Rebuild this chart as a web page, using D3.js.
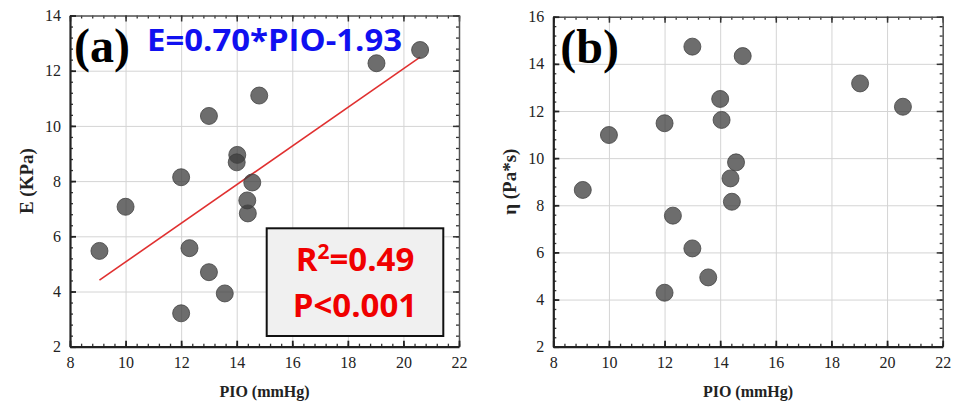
<!DOCTYPE html>
<html>
<head>
<meta charset="utf-8">
<script src="https://cdn.jsdelivr.net/npm/d3@7"></script>
<style>
  body { margin: 0; background: #fff; }
</style>
</head>
<body>
<div id="chart"></div>
<script>
// data
var pioA = [9.06, 10.0, 12.0, 12.0, 12.3, 13.0, 13.0, 13.57, 14.0, 14.02, 14.38, 14.4, 14.56, 14.81, 19.03, 20.6];
var eA   = [5.47, 7.07, 8.14, 3.21, 5.57, 10.36, 4.7, 3.93, 8.68, 8.95, 7.3, 6.83, 7.95, 11.1, 12.27, 12.75];

var pioB = [9.06, 10.0, 12.0, 12.0, 12.3, 13.0, 13.0, 13.57, 14.0, 14.05, 14.37, 14.42, 14.57, 14.81, 19.03, 20.57];
var etaB = [8.65, 10.98, 11.48, 4.29, 7.56, 14.73, 6.17, 4.94, 12.51, 11.62, 9.14, 8.15, 9.82, 14.33, 13.17, 12.18];

var xTicks = [8, 10, 12, 14, 16, 18, 20, 22];
var yTicksA = [2, 4, 6, 8, 10, 12, 14];
var yTicksB = [2, 4, 6, 8, 10, 12, 14, 16];

var fitSlope = 0.70, fitIntercept = -1.93;

var serif = "'Liberation Serif', 'Times New Roman', serif";

var svg = d3.select("#chart").append("svg")
	.attr("width", 956)
	.attr("height", 403);

function panel(opt) {
	var w = opt.right - opt.left,
		h = opt.bottom - opt.top;

	var g = svg.append("g")
		.attr("transform", "translate(" + opt.left + "," + opt.top + ")");

	var x = d3.scaleLinear().domain([8, 22]).range([0, w]);
	var y = d3.scaleLinear().domain(opt.yDomain).range([h, 0]);

	// minor ticks every 0.4
	var xMinor = d3.range(8, 22.001, 0.4).map(function(v) { return +v.toFixed(1); });
	var yMinor = d3.range(opt.yDomain[0], opt.yDomain[1] + 0.001, 0.4).map(function(v) { return +v.toFixed(1); });

	// grid
	g.append("g")
		.attr("transform", "translate(0," + h + ")")
		.call(d3.axisBottom(x).tickValues(xTicks).tickSize(-h).tickFormat(""))
		.call(function(s) { s.select(".domain").remove(); s.selectAll("line").attr("stroke", "#d4d4d4"); });
	g.append("g")
		.call(d3.axisLeft(y).tickValues(opt.yTicks).tickSize(-w).tickFormat(""))
		.call(function(s) { s.select(".domain").remove(); s.selectAll("line").attr("stroke", "#d4d4d4"); });

	// minor ticks, inward on all sides
	var minor = [
		[d3.axisBottom(x).tickValues(xMinor), "translate(0," + h + ")"],
		[d3.axisTop(x).tickValues(xMinor), null],
		[d3.axisLeft(y).tickValues(yMinor), null],
		[d3.axisRight(y).tickValues(yMinor), "translate(" + w + ",0)"]
	];
	minor.forEach(function(m) {
		g.append("g")
			.attr("transform", m[1])
			.call(m[0].tickSize(-3).tickFormat(""))
			.call(function(s) { s.select(".domain").remove(); s.selectAll("line").attr("stroke", "#333").attr("stroke-width", 1.3); });
	});

	// top / right frame
	g.append("g")
		.call(d3.axisTop(x).tickValues(xTicks).tickSize(-6).tickSizeOuter(0).tickFormat(""))
		.call(function(s) { s.select(".domain").attr("stroke", "#555").attr("stroke-width", 1.5); s.selectAll("line").attr("stroke", "#333").attr("stroke-width", 1.5); });
	g.append("g")
		.attr("transform", "translate(" + w + ",0)")
		.call(d3.axisRight(y).tickValues(opt.yTicks).tickSize(-6).tickSizeOuter(0).tickFormat(""))
		.call(function(s) { s.select(".domain").attr("stroke", "#555").attr("stroke-width", 1.5); s.selectAll("line").attr("stroke", "#333").attr("stroke-width", 1.5); });

	// bottom / left axes
	function styleAxis(s) {
		s.select(".domain").attr("stroke", "#222").attr("stroke-width", 2.2);
		s.selectAll("line").attr("stroke", "#222").attr("stroke-width", 1.8);
		s.selectAll("text")
			.attr("fill", "#222")
			.style("font-family", serif)
			.style("font-size", "16px");
	}
	g.append("g")
		.attr("transform", "translate(0," + h + ")")
		.call(d3.axisBottom(x).tickValues(xTicks).tickSize(-6).tickSizeOuter(0).tickPadding(10))
		.call(styleAxis);
	g.append("g")
		.call(d3.axisLeft(y).tickValues(opt.yTicks).tickSize(-6).tickSizeOuter(0).tickPadding(9))
		.call(styleAxis);

	// axis titles
	g.append("text")
		.attr("x", w / 2)
		.attr("y", h + 50)
		.attr("text-anchor", "middle")
		.attr("font-family", serif)
		.attr("font-weight", "bold")
		.attr("font-size", 16)
		.attr("fill", "#222")
		.text("PIO (mmHg)");
	g.append("text")
		.attr("transform", "translate(" + (-37) + "," + (h / 2) + ") rotate(-90)")
		.attr("text-anchor", "middle")
		.attr("font-family", serif)
		.attr("font-weight", "bold")
		.attr("font-size", 19)
		.attr("fill", "#222")
		.text(opt.yLabel);

	// fit line (panel a only)
	if (opt.fit) {
		var ext = d3.extent(opt.xs);
		var line = d3.line()
			.x(function(d) { return x(d); })
			.y(function(d) { return y(fitSlope * d + fitIntercept); });
		g.append("path")
			.datum(ext)
			.attr("d", line)
			.attr("fill", "none")
			.attr("stroke", "#e03030")
			.attr("stroke-width", 1.6);
	}

	// points
	g.selectAll("circle.pt")
		.data(opt.xs.map(function(v, i) { return [v, opt.ys[i]]; }))
		.enter().append("circle")
		.attr("class", "pt")
		.attr("cx", function(d) { return x(d[0]); })
		.attr("cy", function(d) { return y(d[1]); })
		.attr("r", 8.5)
		.attr("fill", "#3c3c3c")
		.attr("fill-opacity", 0.75)
		.attr("stroke", "#444")
		.attr("stroke-opacity", 0.8)
		.attr("stroke-width", 1);

	// panel letter
	g.append("text")
		.attr("x", opt.letterX)
		.attr("y", 46)
		.attr("font-family", serif)
		.attr("font-weight", "bold")
		.attr("font-size", 48)
		.attr("fill", "#000")
		.text(opt.letter);

	return g;
}

panel({
	left: 70, right: 459, top: 15.5, bottom: 346.7,
	yDomain: [2, 14], yTicks: yTicksA, yLabel: "E (KPa)",
	xs: pioA, ys: eA, fit: true, letter: "(a)", letterX: 4
});

panel({
	left: 553.3, right: 942.7, top: 16.7, bottom: 346.7,
	yDomain: [2, 16], yTicks: yTicksB, yLabel: "\u03B7 (Pa*s)",
	xs: pioB, ys: etaB, fit: false, letter: "(b)", letterX: 7
});

// equation
svg.append("text")
	.attr("x", 147)
	.attr("y", 51)
	.attr("textLength", 255)
	.attr("lengthAdjust", "spacingAndGlyphs")
	.attr("font-family", "'Open Sans', sans-serif")
	.attr("font-weight", "bold")
	.attr("font-size", 31)
	.attr("fill", "#1010f0")
	.text("E=0.70*PIO-1.93");

// stats box
svg.append("rect")
	.attr("x", 266.7)
	.attr("y", 228.3)
	.attr("width", 176.6)
	.attr("height", 107.7)
	.attr("fill", "#f0f0f0")
	.attr("stroke", "#111")
	.attr("stroke-width", 2);

var r2 = svg.append("text")
	.attr("x", 355)
	.attr("y", 271)
	.attr("text-anchor", "middle")
	.attr("font-family", "'Open Sans', sans-serif")
	.attr("font-weight", "bold")
	.attr("font-size", 33)
	.attr("fill", "#f00000");
r2.append("tspan").text("R");
r2.append("tspan").attr("dy", -12).attr("font-size", 21).text("2");
r2.append("tspan").attr("dy", 12).text("=0.49");

svg.append("text")
	.attr("x", 355)
	.attr("y", 317)
	.attr("text-anchor", "middle")
	.attr("font-family", "'Open Sans', sans-serif")
	.attr("font-weight", "bold")
	.attr("font-size", 33)
	.attr("fill", "#f00000")
	.text("P<0.001");
</script>
</body>
</html>
